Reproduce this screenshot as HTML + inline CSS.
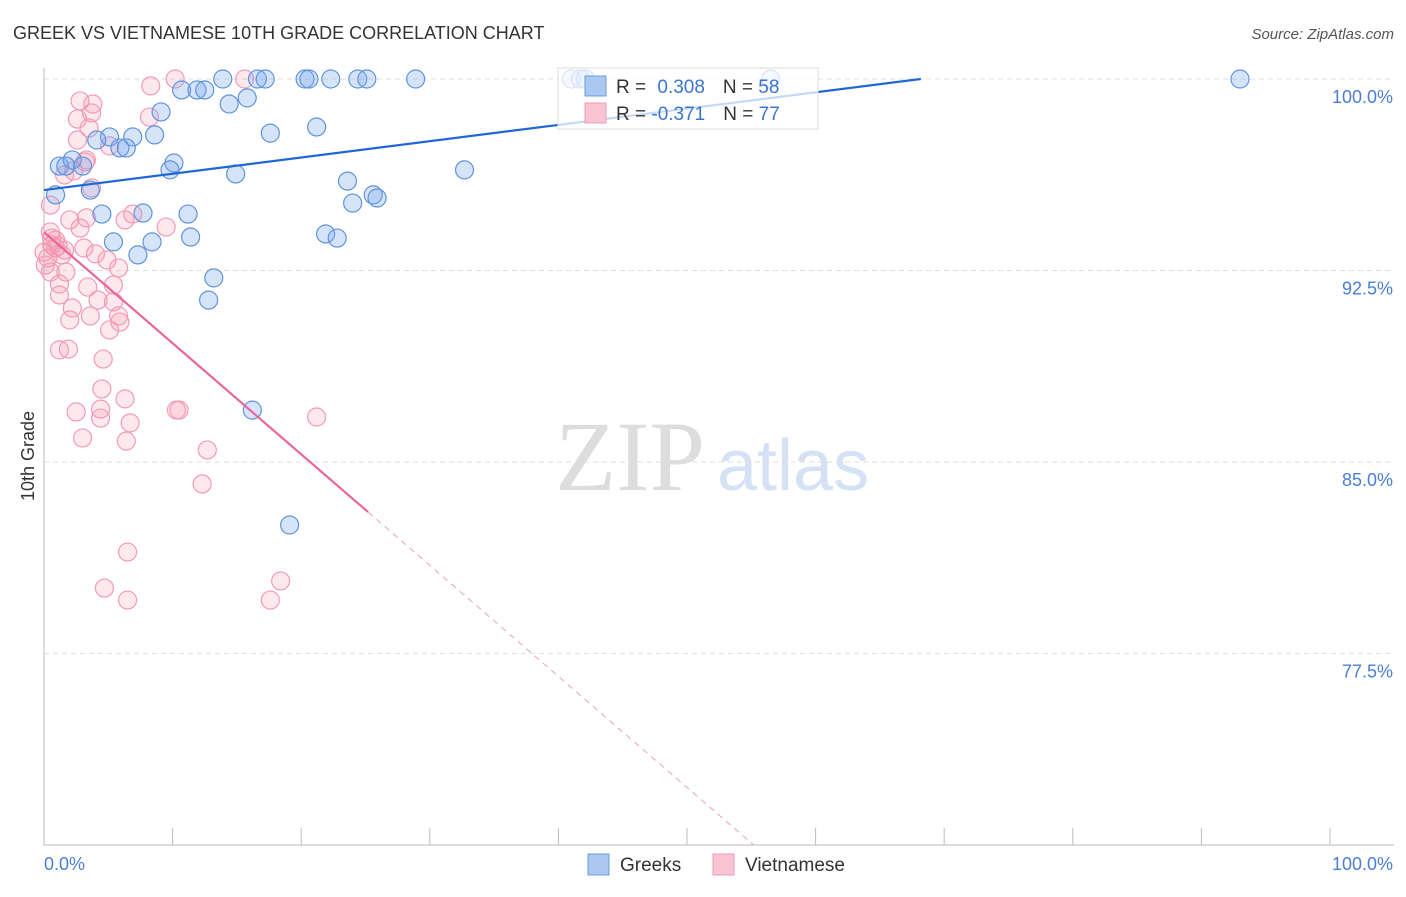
<!DOCTYPE html>
<html><head><meta charset="utf-8"><style>
body{margin:0;background:#fff;width:1406px;height:892px;overflow:hidden;font-family:"Liberation Sans",sans-serif}
</style></head><body>
<svg width="1406" height="892" id="chart">
<text x="13" y="39" font-size="18" fill="#333">GREEK VS VIETNAMESE 10TH GRADE CORRELATION CHART</text>
<text x="1394" y="39" font-size="15" fill="#555" font-style="italic" text-anchor="end">Source: ZipAtlas.com</text>
<text x="555" y="490" font-size="100" fill="#ddd" font-family="Liberation Serif,serif">ZIP</text>
<text x="717" y="490" font-size="72" fill="#d5e2f5">atlas</text>
<g id="grid"></g><g id="axes"></g><g id="pts"></g><g id="lines"></g>
<text transform="translate(34,456) rotate(-90)" font-size="18" fill="#333" text-anchor="middle">10th Grade</text>
<g>
<rect x="558" y="68" width="260" height="61" fill="#fff" fill-opacity="0.75" stroke="#ddd"/>
<rect x="585" y="76" width="21" height="20" fill="#aac8f0" stroke="#6a9ce0"/>
<text x="616" y="93" font-size="19" fill="#333">R = <tspan fill="#3a74d4" dx="6">0.308</tspan><tspan fill="#333" dx="18">N = </tspan><tspan fill="#3a74d4">58</tspan></text>
<rect x="585" y="103" width="21" height="20" fill="#f9c4d3" stroke="#f09ab4"/>
<text x="616" y="120" font-size="19" fill="#333">R = <tspan fill="#3a74d4" dx="0">-0.371</tspan><tspan fill="#333" dx="18">N = </tspan><tspan fill="#3a74d4">77</tspan></text>
</g>
<g>
<rect x="588" y="854" width="21" height="21" fill="#aac8f0" stroke="#6a9ce0"/>
<text x="620" y="871" font-size="19" fill="#333">Greeks</text>
<rect x="713" y="854" width="21" height="21" fill="#f9c4d3" stroke="#f09ab4"/>
<text x="745" y="871" font-size="19" fill="#333">Vietnamese</text>
</g>
</svg>
<script>
const yTicks=[100,92.5,85,77.5];
const yTickLabels=["100.0%","92.5%","85.0%","77.5%"];
const xTickVals=[0,10,20,30,40,50,60,70,80,90,100];
const greekX=[13.9,16.6,17.2,20.3,20.6,22.3,24.4,25.1,28.9,41.0,41.7,42.1,56.5,93.0,10.7,11.9,12.5,14.4,15.8,9.1,5.1,6.9,8.6,4.1,5.9,6.4,17.6,21.2,1.2,2.2,1.7,3.0,10.1,9.8,14.9,32.7,3.6,0.9,23.6,25.6,25.9,24.0,4.5,7.7,11.2,5.4,8.4,11.4,21.9,22.8,7.3,13.2,12.8,16.2,19.1];
const greekY=[100,100,100,100,100,100,100,100,100,100,100,100,100,100,99.57,99.57,99.57,99.02,99.26,98.71,97.73,97.73,97.81,97.61,97.30,97.30,97.88,98.12,96.59,96.83,96.59,96.59,96.71,96.44,96.28,96.44,95.65,95.46,96.00,95.46,95.34,95.14,94.71,94.75,94.71,93.62,93.62,93.81,93.93,93.77,93.11,92.21,91.34,87.03,82.53];
const vietX=[10.2,15.6,8.3,8.2,2.8,3.8,3.7,2.6,3.5,2.6,5.1,3.2,2.3,3.3,1.6,3.7,0.5,0.5,0.6,0.3,0.5,1.2,1.2,2.0,3.3,2.8,6.9,6.3,9.5,0.9,1.6,3.1,4.0,4.9,5.8,1.7,3.4,4.2,5.4,5.4,2.2,3.6,2.0,5.8,5.1,5.9,1.2,1.9,4.6,4.5,6.3,4.4,4.4,6.7,2.5,10.3,10.5,21.2,3.0,6.4,12.7,12.3,6.5,4.7,6.5,17.6,18.4,0.9,0.1,0,1.1,0.6,1.4];
const vietY=[100,100,99.73,98.51,99.14,99.02,98.67,98.43,98.08,97.61,97.38,96.75,96.40,96.83,96.24,95.73,95.06,94.01,93.50,92.99,92.44,91.97,91.54,94.48,94.56,94.16,94.71,94.48,94.20,93.38,93.30,93.38,93.15,92.91,92.60,92.44,91.85,91.34,91.93,91.27,91.03,90.72,90.56,90.72,90.17,90.48,89.39,89.42,89.03,87.86,87.47,87.07,86.72,86.53,86.96,87.03,87.03,86.76,85.94,85.82,85.47,84.14,81.47,80.06,79.59,79.59,80.34,93.69,92.71,93.22,93.46,93.77,93.11];
const greekTrend=[95.65,0.0638];
const vietTrend=[94.0,-0.435];
const NS="http://www.w3.org/2000/svg";
const sx=v=>44+v*12.86, sy=v=>79+(100-v)*25.53;
function mk(tag,attrs,parent){const e=document.createElementNS(NS,tag);for(const k in attrs)e.setAttribute(k,attrs[k]);document.getElementById(parent).appendChild(e);return e;}
yTicks.forEach((t,i)=>{
 const g=mk('line',{x1:44,x2:1394,y1:sy(t),y2:sy(t),stroke:'#ddd','stroke-dasharray':'5,4'},'grid');
 
 
 const l=mk('text',{x:1393,y:sy(t)+24,'font-size':18,fill:'#4a7fd4','text-anchor':'end'},'axes');
 l.textContent=yTickLabels[i];
 
 
});
const ax=mk('line',{x1:44,x2:44,y1:68,y2:845,stroke:'#bbb'},'axes');


const bx=mk('line',{x1:44,x2:1394,y1:845,y2:845,stroke:'#bbb'},'axes');


xTickVals.forEach(t=>{
 const k=mk('line',{x1:sx(t),x2:sx(t),y1:828,y2:845,stroke:'#bbb'},'axes');
 
 
});
const x0=mk('text',{x:44,y:870,'font-size':18,fill:'#4a7fd4'},'axes');x0.textContent='0.0%';


const x1=mk('text',{x:1393,y:870,'font-size':18,fill:'#4a7fd4','text-anchor':'end'},'axes');x1.textContent='100.0%';


vietX.forEach((v,i)=>{
 const c=mk('circle',{cx:sx(v),cy:sy(vietY[i]),r:9,fill:'rgba(244,150,178,0.22)',stroke:'#f29ab5','stroke-width':1.2},'pts');
 
 
});
greekX.forEach((v,i)=>{
 const c=mk('circle',{cx:sx(v),cy:sy(greekY[i]),r:9,fill:'rgba(120,165,235,0.3)',stroke:'#5f93de','stroke-width':1.2},'pts');
 
 
});
const gEnd=(100-greekTrend[0])/greekTrend[1];
const bl=mk('line',{x1:sx(0),y1:sy(greekTrend[0]),x2:sx(gEnd),y2:sy(100),stroke:'#1f68d4','stroke-width':2.2},'lines');


const vSolid=25.2, vEnd=(70-vietTrend[0])/vietTrend[1];
const pl=mk('line',{x1:sx(0),y1:sy(vietTrend[0]),x2:sx(vSolid),y2:sy(vietTrend[0]+vietTrend[1]*vSolid),stroke:'#e8669a','stroke-width':2.2},'lines');


const pd=mk('line',{x1:sx(vSolid),y1:sy(vietTrend[0]+vietTrend[1]*vSolid),x2:sx(vEnd),y2:sy(70),stroke:'#e8a0bc','stroke-width':1,'stroke-dasharray':'6,5'},'lines');


</script>
</body></html>
